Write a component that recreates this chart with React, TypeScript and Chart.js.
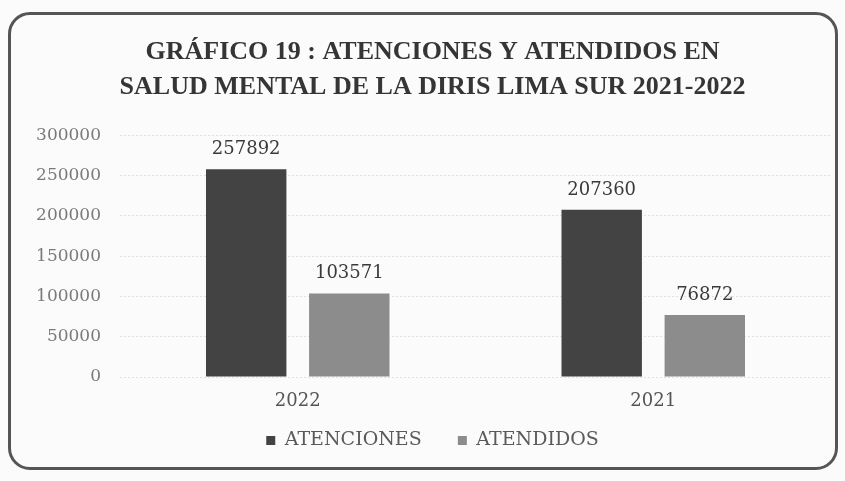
import React, { useEffect, useRef } from "react";
import { Chart, registerables } from "chart.js";

Chart.register(...registerables);

const categories = ["2022", "2021"];
const atenciones = [257892, 207360];
const atendidos = [103571, 76872];
const seriesNames = ["ATENCIONES", "ATENDIDOS"];
const titleLines = ["GRÁFICO 19 : ATENCIONES Y ATENDIDOS EN", "SALUD MENTAL DE LA DIRIS LIMA SUR 2021-2022"];

const SERIF = '"Liberation Serif", "DejaVu Serif", serif';
const WIDE_SERIF = '"DejaVu Serif", "Liberation Serif", serif';

const valueLabels = {
  id: "valueLabels",
  afterDatasetsDraw(chart: any) {
    const ctx = chart.ctx;
    ctx.save();
    ctx.font = `18px ${WIDE_SERIF}`;
    ctx.fillStyle = "#3a3a3a";
    ctx.textAlign = "center";
    ctx.textBaseline = "bottom";
    chart.data.datasets.forEach((ds: any, i: number) => {
      const meta = chart.getDatasetMeta(i);
      meta.data.forEach((bar: any, j: number) => {
        ctx.fillText(String(ds.data[j]), bar.x, bar.y - 11);
      });
    });
    ctx.restore();
  },
};

const defaultLabels = Chart.defaults.plugins.legend.labels.generateLabels;

export default function App() {
  const ref = useRef<HTMLCanvasElement>(null);
  useEffect(() => {
    if (!ref.current) return;
    const chart = new Chart(ref.current, {
      type: "bar",
      data: {
        labels: categories,
        datasets: [
          {
            label: seriesNames[0],
            data: atenciones,
            backgroundColor: "#434343",
            categoryPercentage: 0.58,
            barPercentage: 0.78,
          },
          {
            label: seriesNames[1],
            data: atendidos,
            backgroundColor: "#8c8c8c",
            categoryPercentage: 0.58,
            barPercentage: 0.78,
          },
        ],
      },
      options: {
        animation: false,
        responsive: false,
        layout: { padding: { top: 25, left: 34, right: 14, bottom: 21 } },
        plugins: {
          title: {
            display: true,
            text: titleLines,
            color: "#353535",
            font: { family: SERIF, size: 26, weight: "bold", lineHeight: 1.35 },
            padding: { top: 10, bottom: 30 },
          },
          legend: {
            position: "bottom",
            labels: {
              color: "#5a5a5a",
              font: { family: WIDE_SERIF, size: 19 },
              boxWidth: 9,
              boxHeight: 9,
              padding: 18,
              generateLabels: (c: any) =>
                defaultLabels(c).map((l: any, i: number, arr: any[]) =>
                  i < arr.length - 1 ? { ...l, text: l.text + "   " } : l
                ),
            },
          },
          tooltip: { enabled: false },
        },
        scales: {
          x: {
            grid: { display: false, drawTicks: false },
            border: { display: false },
            afterFit: (s: any) => {
              s.height = 36;
            },
            ticks: { color: "#555", font: { family: WIDE_SERIF, size: 18 }, padding: 14 },
          },
          y: {
            min: 0,
            max: 300000,
            afterFit: (s: any) => {
              s.width = 86;
            },
            ticks: {
              stepSize: 50000,
              color: "#7a7a7a",
              font: { family: WIDE_SERIF, size: 17 },
              padding: 19,
              callback: (v: any) => String(v),
            },
            grid: { color: "#e0e0e0", drawTicks: false },
            border: { display: false, dash: [2, 2] },
          },
        },
      },
      plugins: [valueLabels],
    });
    return () => chart.destroy();
  }, []);

  return (
    <div style={{ position: "absolute", left: 0, top: 0, width: 845, height: 481, background: "#fbfbfb" }}>
      <canvas ref={ref} width={845} height={481} style={{ position: "absolute", left: 0, top: 0 }} />
      <div
        style={{
          position: "absolute",
          left: 8,
          top: 12,
          width: 824,
          height: 452,
          border: "3px solid #555",
          borderRadius: 22,
          pointerEvents: "none",
        }}
      />
    </div>
  );
}
